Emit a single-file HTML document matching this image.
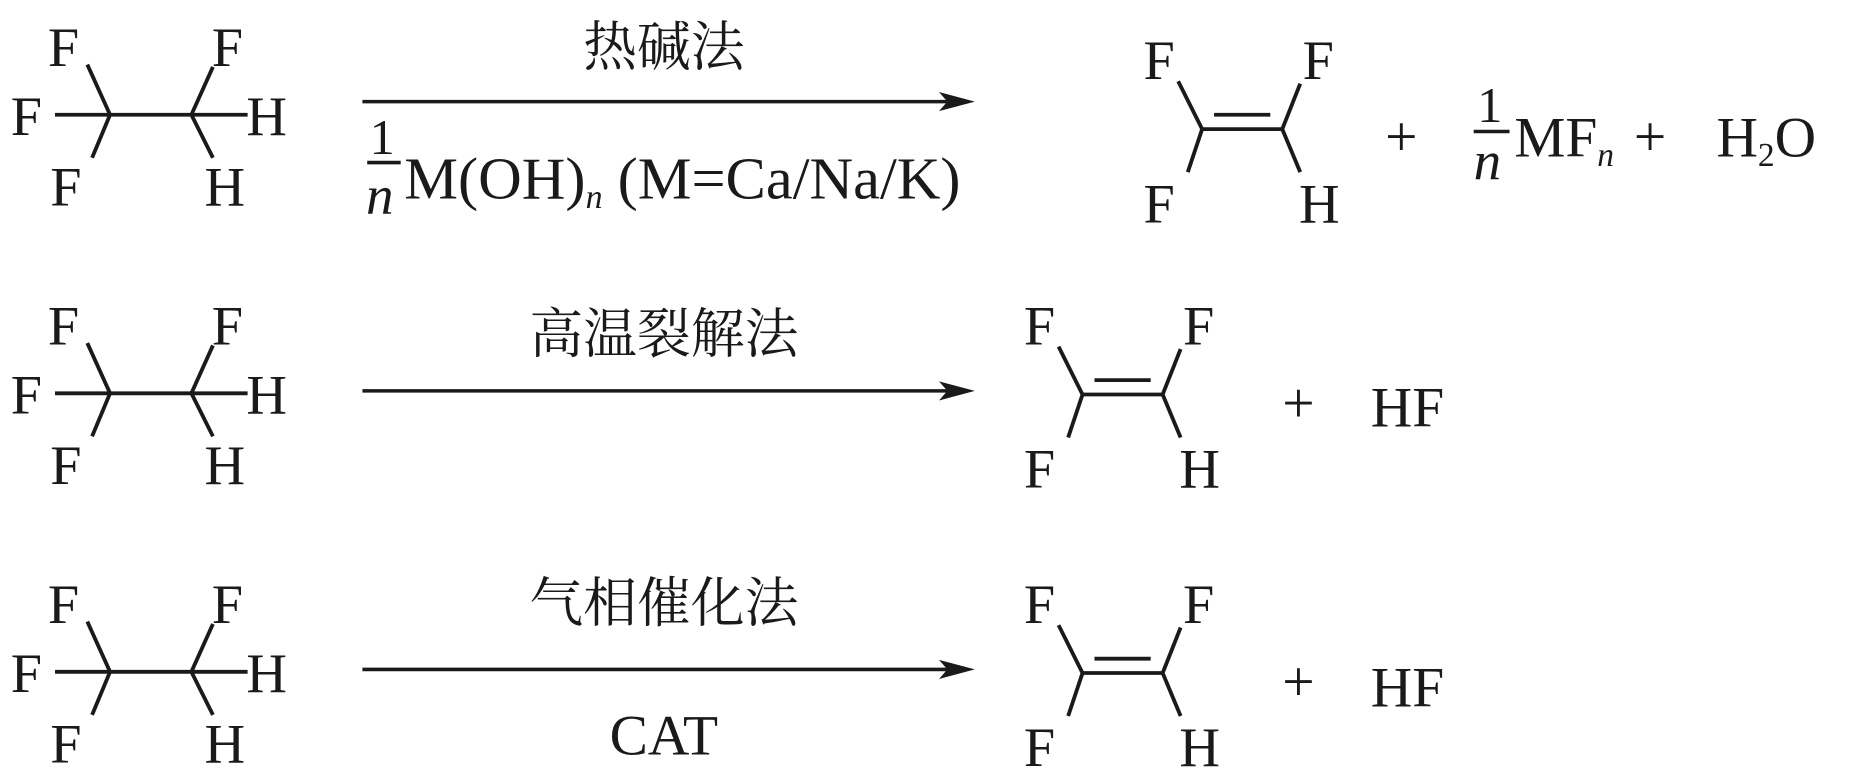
<!DOCTYPE html>
<html><head><meta charset="utf-8"><style>
html,body{margin:0;padding:0;background:#fff;}
svg{display:block}
text{font-family:"Liberation Serif","Noto Serif CJK SC",serif;fill:#1a1a1a;}
</style></head><body>
<svg width="1866" height="777" viewBox="0 0 1560 650" preserveAspectRatio="none" xmlns="http://www.w3.org/2000/svg">
<defs>
<g id="react" stroke="#1a1a1a" stroke-width="3.2" fill="none">
<line x1="46" y1="0" x2="160" y2="0"/><line x1="160" y1="0" x2="207" y2="0"/>
<line x1="92" y1="0" x2="73" y2="-42"/><line x1="92" y1="0" x2="77" y2="36"/>
<line x1="160" y1="0" x2="178" y2="-40"/><line x1="160" y1="0" x2="178" y2="36"/>
</g>
<g id="rlab" font-size="47">
<text x="40" y="-41">F</text><text x="177" y="-41">F</text>
<text x="9" y="17">F</text><text x="206" y="17">H</text>
<text x="42" y="76">F</text><text x="171" y="76">H</text>
</g>
<g id="prod">
<g stroke="#1a1a1a" stroke-width="3.2" fill="none">
<line x1="0" y1="0" x2="67" y2="0"/><line x1="10" y1="-12" x2="57" y2="-12"/>
<line x1="0" y1="0" x2="-20" y2="-40"/><line x1="67" y1="0" x2="82" y2="-38"/>
<line x1="0" y1="0" x2="-12" y2="36"/><line x1="67" y1="0" x2="82" y2="36"/>
</g>
<g font-size="47"><text x="-49" y="-42">F</text><text x="84" y="-42">F</text>
<text x="-49" y="78">F</text><text x="81" y="78">H</text></g>
</g>
<g id="arrow"><line x1="303" y1="0" x2="800" y2="0" stroke="#1a1a1a" stroke-width="3"/>
<path d="M815 0 L785 -8 L792 0 L785 8 Z" fill="#1a1a1a"/></g>
</defs>

<!-- Row 1 -->
<use href="#react" x="0" y="96"/><use href="#rlab" x="0" y="96"/>
<use href="#arrow" x="0" y="85"/>
<text x="555" y="55" font-size="45" text-anchor="middle">热碱法</text>
<text x="309" y="129" font-size="42">1</text>
<line x1="307" y1="136" x2="335" y2="136" stroke="#1a1a1a" stroke-width="3"/>
<text x="306" y="179" font-size="46" font-style="italic">n</text>
<text x="338" y="166" font-size="50" textLength="465" lengthAdjust="spacingAndGlyphs">M(OH)<tspan font-size="28" font-style="italic" dy="8">n</tspan><tspan dy="-8"> (M=Ca/Na/K)</tspan></text>
<use href="#prod" x="1005" y="108"/>
<text x="1158" y="130" font-size="48">+</text>
<text x="1235" y="102" font-size="42">1</text>
<line x1="1232" y1="110" x2="1262" y2="110" stroke="#1a1a1a" stroke-width="3"/>
<text x="1232" y="150" font-size="46" font-style="italic">n</text>
<text x="1266" y="131" font-size="48">MF<tspan font-size="28" font-style="italic" dy="8">n</tspan></text>
<text x="1366" y="130" font-size="48">+</text>
<text x="1435" y="131" font-size="48">H<tspan font-size="28" dy="8">2</tspan><tspan dy="-8">O</tspan></text>

<!-- Row 2 -->
<use href="#react" x="0" y="329"/><use href="#rlab" x="0" y="329"/>
<use href="#arrow" x="0" y="327"/>
<text x="555" y="295" font-size="45" text-anchor="middle">高温裂解法</text>
<use href="#prod" x="905" y="330"/>
<text x="1072" y="353" font-size="48">+</text>
<text x="1146" y="357" font-size="48">HF</text>

<!-- Row 3 -->
<use href="#react" x="0" y="562"/><use href="#rlab" x="0" y="562"/>
<use href="#arrow" x="0" y="560"/>
<text x="555" y="520" font-size="45" text-anchor="middle">气相催化法</text>
<text x="555" y="631" font-size="48" text-anchor="middle">CAT</text>
<use href="#prod" x="905" y="563"/>
<text x="1072" y="586" font-size="48">+</text>
<text x="1146" y="591" font-size="48">HF</text>
</svg>
</body></html>
